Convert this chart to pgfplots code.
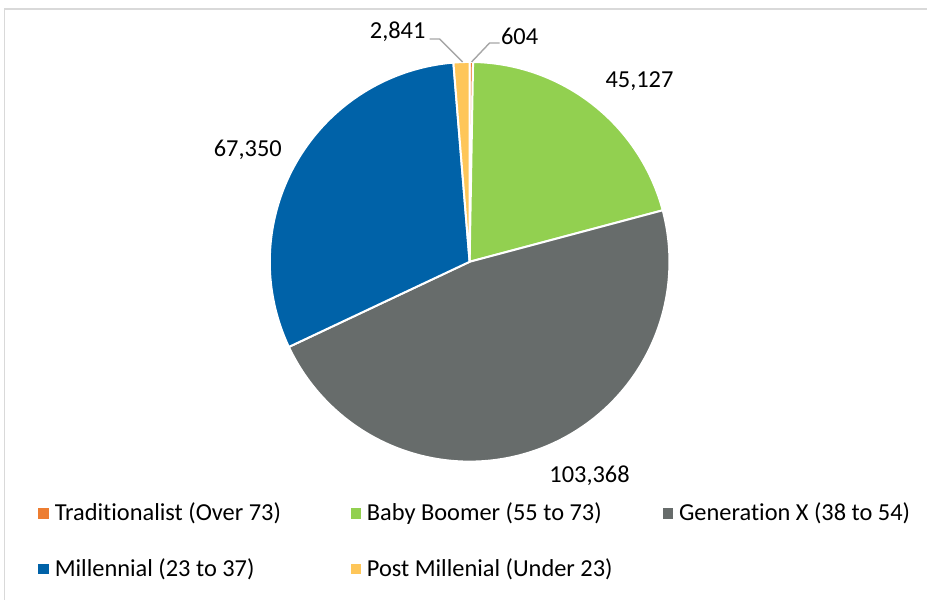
\documentclass[border=0pt]{standalone}
\usepackage{pgfplots}
\pgfplotsset{compat=1.18}
\usepackage{pgfplotstable}
\usepackage{fontspec}
\setmainfont{Carlito}[Ligatures=NoCommon]

\definecolor{cTrad}{HTML}{ED7D31}
\definecolor{cBB}{HTML}{92D050}
\definecolor{cGX}{HTML}{676C6B}
\definecolor{cMil}{HTML}{0062A8}
\definecolor{cPost}{HTML}{FEC659}
\definecolor{frame}{HTML}{D9D9D9}
\definecolor{leader}{HTML}{A6A6A6}

% headcount by generation, clockwise from 12 o'clock
\pgfplotstableread{
value
604
45127
103368
67350
2841
}\piedata

\newcommand{\lbl}{\fontsize{12.2}{14}\selectfont}

\begin{document}
\begin{tikzpicture}
\pgfplotstablegetelem{0}{value}\of\piedata \let\vA\pgfplotsretval
\pgfplotstablegetelem{1}{value}\of\piedata \let\vB\pgfplotsretval
\pgfplotstablegetelem{2}{value}\of\piedata \let\vC\pgfplotsretval
\pgfplotstablegetelem{3}{value}\of\piedata \let\vD\pgfplotsretval
\pgfplotstablegetelem{4}{value}\of\piedata \let\vE\pgfplotsretval
\edef\tot{\fpeval{\vA+\vB+\vC+\vD+\vE}}
\edef\aA{90}
\edef\aB{\fpeval{\aA-360*\vA/\tot}}
\edef\aC{\fpeval{\aB-360*\vB/\tot}}
\edef\aD{\fpeval{\aC-360*\vC/\tot}}
\edef\aE{\fpeval{\aD-360*\vD/\tot}}
\edef\aF{\fpeval{\aE-360*\vE/\tot}}
\begin{axis}[
  scale only axis, width=464pt, height=300pt,
  xmin=-2.35, xmax=2.29, ymin=-1.69, ymax=1.31,
  hide axis, clip=false,
  legend columns=3,
  legend image code/.code={\fill[#1,draw=none] (0pt,-2.6pt) rectangle (5.2pt,2.6pt);},
  legend style={at={(axis description cs:0.0345,0.175)}, anchor=north west,
    draw=none, fill=none, font=\lbl, row sep=13.5pt,
    /tikz/every odd column/.style={column sep=1pt}},
]
\path (rel axis cs:0,0) rectangle (rel axis cs:1,1);
\draw[frame, line width=0.75pt] (axis cs:-2.3275,-1.69) -- (axis cs:-2.3275,1.265) -- (axis cs:2.29,1.265);

\addplot[fill=cTrad, draw=white, line width=1pt, domain=\aB:\aA, samples=4] ({cos(x)},{sin(x)}) -- (axis cs:0,0) -- cycle;
\addlegendentry{\makebox[146pt][l]{Traditionalist (Over 73)}}
\addplot[fill=cBB, draw=white, line width=1pt, domain=\aC:\aB, samples=80] ({cos(x)},{sin(x)}) -- (axis cs:0,0) -- cycle;
\addlegendentry{\makebox[146pt][l]{Baby Boomer (55 to 73)}}
\addplot[fill=cGX, draw=white, line width=1pt, domain=\aD:\aC, samples=160] ({cos(x)},{sin(x)}) -- (axis cs:0,0) -- cycle;
\addlegendentry{Generation X (38 to 54)}
\addplot[fill=cMil, draw=white, line width=1pt, domain=\aE:\aD, samples=110] ({cos(x)},{sin(x)}) -- (axis cs:0,0) -- cycle;
\addlegendentry{\makebox[146pt][l]{Millennial (23 to 37)}}
\addplot[fill=cPost, draw=white, line width=1pt, domain=\aF:\aE, samples=8] ({cos(x)},{sin(x)}) -- (axis cs:0,0) -- cycle;
\addlegendentry{\makebox[146pt][l]{Post Millenial (Under 23)}}

\draw[leader, line width=0.7pt] (axis cs:-0.2,1.115) -- (axis cs:-0.15,1.115) -- (axis cs:-0.035,1.0);
\draw[leader, line width=0.7pt] (axis cs:0.15,1.095) -- (axis cs:0.10,1.095) -- (axis cs:0.01,1.0);

\node[font=\lbl] at (axis cs:-0.36,1.15) {2,841};
\node[font=\lbl] at (axis cs:0.25,1.13) {604};
\node[font=\lbl] at (axis cs:0.85,0.905) {45,127};
\node[font=\lbl] at (axis cs:-1.11,0.56) {67,350};
\node[font=\lbl] at (axis cs:0.60,-1.07) {103,368};
\end{axis}
\end{tikzpicture}
\end{document}
